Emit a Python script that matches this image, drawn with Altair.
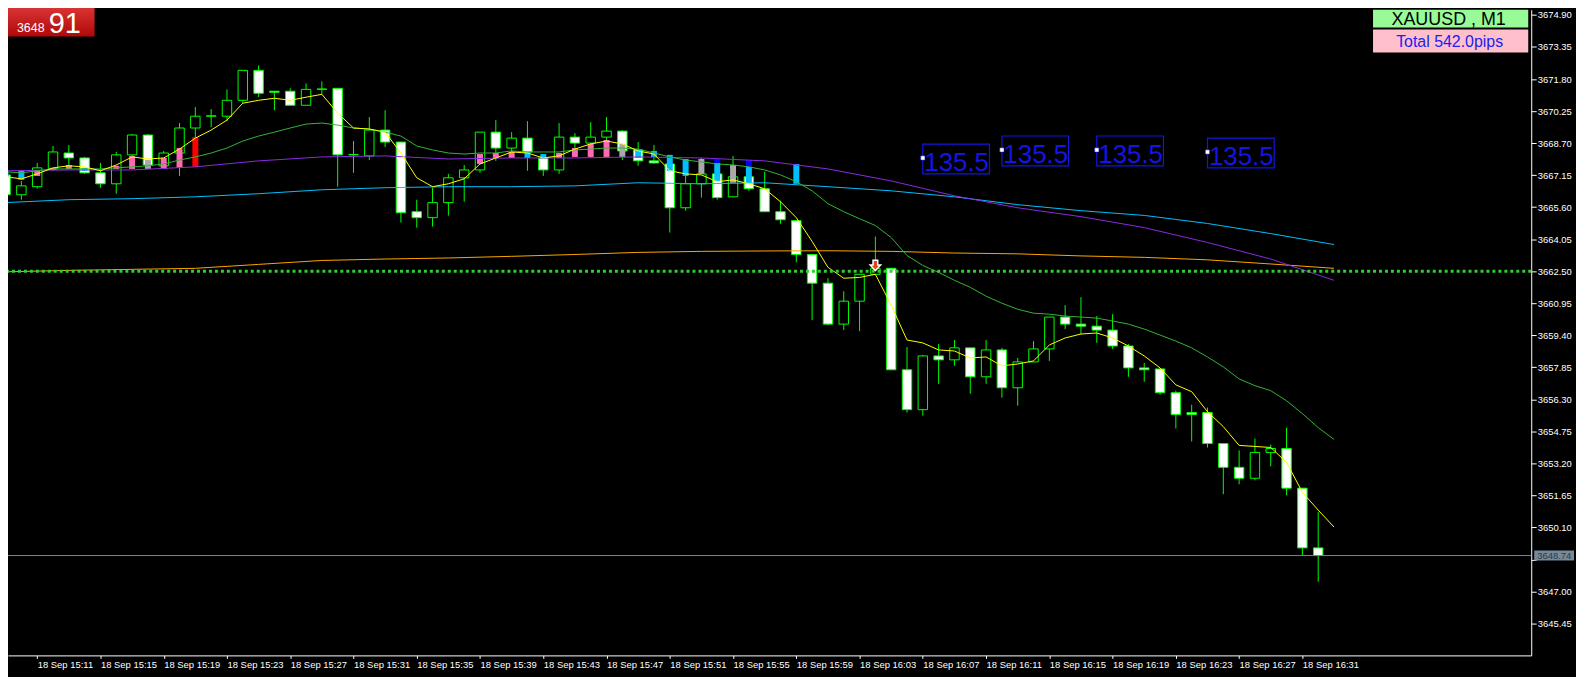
import altair as alt
import pandas as pd

# ------------------------------------------------------------------ data
DAY = "2025-09-18"
FIRST_BAR = "15:09"          # first (left-most) one-minute bar

opens = [3667.16, 3666.20, 3666.59, 3667.45, 3668.22, 3667.98, 3667.26, 3666.73, 3668.13, 3669.09,
         3667.60, 3668.22, 3669.43, 3670.00, 3670.00, 3670.77, 3672.22, 3671.21, 3671.21, 3670.53,
         3671.30, 3671.35, 3668.13, 3668.08, 3669.33, 3668.75, 3665.38, 3665.09, 3665.82, 3667.02,
         3667.40, 3669.23, 3668.46, 3668.94, 3667.98, 3667.40, 3668.99, 3668.70, 3668.99, 3669.28,
         3668.37, 3667.84, 3667.69, 3665.57, 3666.73, 3667.21, 3666.10, 3667.07, 3666.49, 3665.38,
         3664.95, 3663.31, 3661.92, 3659.94, 3661.05, 3662.35, 3662.64, 3657.73, 3655.80, 3658.40,
         3658.21, 3658.79, 3657.39, 3658.69, 3656.86, 3658.11, 3658.74, 3660.28, 3659.94, 3659.84,
         3659.65, 3658.88, 3657.82, 3657.77, 3656.62, 3655.66, 3655.66, 3654.16, 3653.01, 3652.48,
         3653.73, 3653.92, 3652.00, 3649.11]
highs = [3667.60, 3666.87, 3667.74, 3668.56, 3668.61, 3668.03, 3667.74, 3668.27, 3669.14, 3669.14,
         3668.32, 3669.67, 3670.44, 3670.34, 3671.30, 3672.22, 3672.46, 3671.21, 3671.35, 3671.59,
         3671.69, 3671.35, 3668.80, 3669.96, 3670.29, 3668.75, 3665.96, 3666.54, 3667.21, 3667.64,
         3669.23, 3669.81, 3669.23, 3669.76, 3668.17, 3669.67, 3669.18, 3669.71, 3669.96, 3669.33,
         3668.75, 3668.61, 3668.13, 3667.11, 3667.98, 3667.93, 3668.08, 3667.84, 3667.31, 3665.91,
         3664.95, 3663.31, 3662.16, 3661.53, 3662.35, 3664.18, 3662.64, 3658.83, 3658.45, 3658.98,
         3659.17, 3658.79, 3659.17, 3658.79, 3658.30, 3659.12, 3660.28, 3660.86, 3661.24, 3660.33,
         3660.42, 3658.98, 3658.06, 3657.77, 3656.72, 3656.04, 3655.90, 3654.16, 3653.83, 3654.40,
         3654.11, 3654.93, 3652.00, 3650.84]
lows = [3666.06, 3665.96, 3666.49, 3667.36, 3667.50, 3667.21, 3666.54, 3666.25, 3668.08, 3667.50,
        3667.55, 3667.11, 3668.94, 3669.47, 3669.76, 3670.63, 3670.92, 3670.29, 3670.53, 3670.53,
        3671.06, 3666.59, 3667.26, 3667.88, 3668.51, 3664.85, 3664.61, 3664.66, 3665.19, 3665.86,
        3667.26, 3667.84, 3667.98, 3667.36, 3667.11, 3667.21, 3668.46, 3667.98, 3668.70, 3667.88,
        3667.60, 3667.69, 3664.37, 3665.43, 3666.06, 3665.96, 3666.10, 3666.39, 3665.38, 3664.80,
        3662.93, 3660.13, 3659.89, 3659.65, 3659.60, 3662.35, 3657.73, 3655.66, 3655.51, 3657.05,
        3657.92, 3656.57, 3657.05, 3656.38, 3655.99, 3658.11, 3658.16, 3659.70, 3659.46, 3659.03,
        3658.74, 3657.39, 3657.15, 3656.52, 3654.89, 3654.26, 3653.97, 3651.71, 3652.19, 3652.38,
        3653.06, 3651.66, 3648.72, 3647.47]
closes = [3666.20, 3666.63, 3667.50, 3668.27, 3667.98, 3667.26, 3666.73, 3668.13, 3669.09, 3667.64,
          3668.22, 3669.43, 3670.00, 3670.02, 3670.77, 3672.22, 3671.11, 3671.16, 3670.53, 3671.30,
          3671.32, 3668.13, 3668.15, 3669.33, 3668.75, 3665.33, 3665.09, 3665.82, 3667.02, 3667.40,
          3669.23, 3668.46, 3668.94, 3668.27, 3667.40, 3668.99, 3668.70, 3668.99, 3669.28, 3668.32,
          3667.84, 3667.74, 3665.57, 3666.73, 3667.21, 3666.06, 3667.07, 3666.49, 3665.38, 3664.99,
          3663.31, 3661.92, 3659.94, 3661.05, 3662.35, 3662.64, 3657.73, 3655.80, 3658.40, 3658.21,
          3658.79, 3657.39, 3658.69, 3656.86, 3658.11, 3658.74, 3660.28, 3659.94, 3659.84, 3659.65,
          3658.88, 3657.82, 3657.73, 3656.62, 3655.56, 3655.56, 3654.16, 3653.01, 3652.48, 3653.73,
          3653.92, 3652.00, 3649.11, 3648.74]

# moving averages, one value per bar (drawn one bar shifted, so 85 values)
ma_fast = [3667.07, 3666.97, 3667.21, 3667.50, 3667.60, 3667.55, 3667.36, 3667.64, 3668.03, 3667.93,
           3667.98, 3668.41, 3668.94, 3669.33, 3669.81, 3670.63, 3670.77, 3670.87, 3670.77, 3670.92,
           3671.06, 3670.15, 3669.43, 3669.38, 3669.23, 3668.22, 3667.02, 3666.59, 3666.73, 3666.97,
           3667.69, 3667.98, 3668.27, 3668.22, 3667.98, 3668.08, 3668.41, 3668.66, 3668.80, 3668.66,
           3668.32, 3668.17, 3667.36, 3667.21, 3667.16, 3666.83, 3666.92, 3666.73, 3666.49, 3665.86,
           3665.09, 3663.94, 3662.69, 3662.16, 3662.20, 3662.35, 3660.86, 3659.17, 3659.03, 3658.69,
           3658.64, 3658.30, 3658.35, 3657.92, 3658.01, 3658.16, 3658.93, 3659.27, 3659.46, 3659.51,
           3659.27, 3658.88, 3658.40, 3657.82, 3657.00, 3656.67, 3655.70, 3654.98, 3654.07, 3654.02,
           3653.97, 3653.25, 3651.80, 3650.94, 3650.12]
ma_mid = [3667.31, 3667.26, 3667.36, 3667.45, 3667.45, 3667.45, 3667.45, 3667.50, 3667.55, 3667.60,
          3667.69, 3667.88, 3668.03, 3668.22, 3668.46, 3668.80, 3669.04, 3669.23, 3669.43, 3669.62,
          3669.67, 3669.57, 3669.43, 3669.38, 3669.23, 3669.04, 3668.56, 3668.37, 3668.22, 3668.17,
          3668.22, 3668.22, 3668.32, 3668.27, 3668.27, 3668.27, 3668.37, 3668.41, 3668.46, 3668.46,
          3668.41, 3668.22, 3668.03, 3667.88, 3667.79, 3667.69, 3667.64, 3667.55, 3667.40, 3667.16,
          3666.83, 3666.39, 3665.77, 3665.38, 3665.04, 3664.71, 3664.13, 3663.26, 3662.78, 3662.44,
          3662.06, 3661.72, 3661.29, 3660.95, 3660.66, 3660.47, 3660.42, 3660.33, 3660.28, 3660.23,
          3660.09, 3659.94, 3659.70, 3659.41, 3659.12, 3658.79, 3658.35, 3657.87, 3657.29, 3656.96,
          3656.72, 3656.23, 3655.61, 3654.93, 3654.36]
# slow averages, read every 4th bar
slow_bars = list(range(0, 85, 4))
ma_purple = [3667.36, 3667.40, 3667.40, 3667.55, 3667.84, 3668.03, 3668.08, 3667.93, 3667.98, 3667.98, 3668.03,
             3667.98, 3667.84, 3667.45, 3666.87, 3666.15, 3665.57, 3665.14, 3664.61, 3663.89, 3663.09, 3662.06]
ma_blue = [3665.82, 3665.96, 3666.01, 3666.10, 3666.25, 3666.44, 3666.54, 3666.59, 3666.59, 3666.63, 3666.78,
           3666.73, 3666.78, 3666.59, 3666.39, 3666.10, 3665.72, 3665.43, 3665.20, 3664.81, 3664.32, 3663.79]
ma_orange = [3662.47, 3662.54, 3662.59, 3662.64, 3662.83, 3663.02, 3663.09, 3663.14, 3663.22, 3663.31, 3663.41,
             3663.46, 3663.48, 3663.49, 3663.46, 3663.38, 3663.34, 3663.24, 3663.17, 3663.05, 3662.85, 3662.64]

# indicator histogram blocks
hist_bar = [0, 1, 2, 3, 4, 5, 7, 8, 9, 10, 11, 12,
            30, 31, 32, 33, 34, 35, 36, 37, 38, 39, 40, 41, 42, 43, 44, 45, 45, 46, 47, 47, 50]
hist_top = [3667.36, 3667.36, 3667.40, 3667.50, 3667.64, 3667.50, 3667.60, 3668.08, 3667.88, 3667.98, 3668.46, 3668.99,
            3668.17, 3668.22, 3668.27, 3668.27, 3668.17, 3668.22, 3668.46, 3668.66, 3668.85, 3668.66, 3668.37, 3668.32,
            3668.13, 3667.93, 3667.93, 3667.74, 3667.93, 3667.64, 3667.55, 3667.88, 3667.69]
hist_bottom = [3667.07, 3666.92, 3667.11, 3667.40, 3667.45, 3667.36, 3667.45, 3667.45, 3667.45, 3667.45, 3667.50, 3667.55,
               3667.69, 3667.98, 3667.98, 3667.98, 3667.98, 3667.98, 3668.03, 3668.03, 3668.03, 3668.03, 3667.98, 3668.03,
               3667.36, 3667.11, 3667.21, 3666.87, 3667.74, 3666.78, 3666.78, 3667.55, 3666.73]
hist_kind = ["B", "B", "P", "P", "P", "B", "P", "P", "G", "P", "P", "R",
             "P", "P", "P", "B", "B", "P", "P", "P", "P", "G", "B", "B",
             "B", "B", "G", "B", "D", "G", "B", "D", "B"]

# annotations
level_line = 3662.50
current_price = 3648.74
price_label = "3648.74"
box_bars = [58, 63, 69, 76]
box_prices = [3667.98, 3668.37, 3668.37, 3668.27]
box_texts = ["135.5", "135.5", "135.5", "135.5"]
arrow_bar = 55
arrow_price = 3662.78
y_ticks = [3674.90, 3673.35, 3671.80, 3670.25, 3668.70, 3667.15, 3665.60, 3664.05, 3662.50, 3660.95,
           3659.40, 3657.85, 3656.30, 3654.75, 3653.20, 3651.65, 3650.10, 3648.55, 3647.00, 3645.45]
x_tick_times = ["15:11", "15:15", "15:19", "15:23", "15:27", "15:31", "15:35", "15:39", "15:43", "15:47",
                "15:51", "15:55", "15:59", "16:03", "16:07", "16:11", "16:15", "16:19", "16:23", "16:27", "16:31"]
badge_small = "3648"
badge_big = "91"
symbol_label = "XAUUSD , M1"
total_label = "Total 542.0pips"

# ------------------------------------------------------------------ helpers
GREEN = "#00FF00"
FONT = "Liberation Sans, Arial, sans-serif"

bar_times = pd.date_range(f"{DAY} {FIRST_BAR}", periods=len(opens) + 1, freq="min")


def ts(k):
    return bar_times[k].strftime("%Y-%m-%dT%H:%M:%S")


def dt(h, m, s=0, ms=0):
    return alt.DateTime(year=2025, month=9, date=18, hours=h, minutes=m, seconds=s, milliseconds=ms)


x_scale = alt.Scale(domain=[dt(15, 9, 28, 125), dt(16, 45, 9, 375)], nice=False)
y_scale = alt.Scale(domain=[3643.908, 3675.155], nice=False, zero=False)

x_axis = alt.Axis(values=[dt(int(s[:2]), int(s[3:])) for s in x_tick_times], format="%d %b %H:%M",
                  labelAlign="left", labelBaseline="top", labelPadding=1, labelColor="white",
                  labelFont=FONT, labelFontSize=9.5, tickColor="white", tickSize=3,
                  domainColor="white", grid=False, labelFlush=False, labelOverlap=False,
                  labelBound=False, title=None)
y_axis = alt.Axis(orient="right", values=y_ticks, labelColor="white", labelFont=FONT,
                  labelExpr="abs(datum.value - 3648.55) < 0.01 ? '' : format(datum.value, '.2f')",
                  labelFontSize=9.5, labelPadding=1, tickSize=5, tickColor="white", domainColor="white",
                  grid=False, labelOverlap=False, labelFlush=False, labelBaseline="middle", title=None)


def X(f="t"):
    return alt.X(f"{f}:T", scale=x_scale, axis=x_axis, title=None)


def Y(f):
    return alt.Y(f"{f}:Q", scale=y_scale, axis=y_axis, title=None)


# ------------------------------------------------------------------ frames
n = len(opens)
candles = pd.DataFrame({"t": [ts(i) for i in range(n)], "open": opens, "high": highs,
                        "low": lows, "close": closes})
candles["fill"] = ["#FFFFFF" if c < o else "#000000" for o, c in zip(opens, closes)]

kind_color = {"B": "#00BFFF", "P": "#FF69B4", "G": "#A9A9A9", "R": "#FF0000", "D": "#0000FF"}
hist = pd.DataFrame({"t": [ts(i) for i in hist_bar], "top": hist_top, "bottom": hist_bottom,
                     "col": [kind_color[k] for k in hist_kind]})

fast = pd.DataFrame({"t": [ts(i) for i in range(len(ma_fast))], "p": ma_fast})
mid = pd.DataFrame({"t": [ts(i) for i in range(len(ma_mid))], "p": ma_mid})
purple = pd.DataFrame({"t": [ts(i) for i in slow_bars], "p": ma_purple})
blue = pd.DataFrame({"t": [ts(i) for i in slow_bars], "p": ma_blue})
orange = pd.DataFrame({"t": [ts(i) for i in slow_bars], "p": ma_orange})

boxes = pd.DataFrame({"t": [ts(i) for i in box_bars], "p": box_prices, "txt": box_texts})
arrow = pd.DataFrame({"t": [ts(arrow_bar)], "p": [arrow_price]})
level = pd.DataFrame({"p": [level_line]})
price = pd.DataFrame({"p": [current_price], "txt": [price_label]})
one = pd.DataFrame({"a": [0]})

# ------------------------------------------------------------------ layers
wicks = alt.Chart(candles).mark_rule(color=GREEN, strokeWidth=1).encode(
    x=X(), y=Y("low"), y2="high")
bodies = alt.Chart(candles).mark_bar(size=9.5, stroke=GREEN, strokeWidth=1).encode(
    x=X(), y=Y("open"), y2="close", fill=alt.Fill("fill:N", scale=None))
histo = alt.Chart(hist).mark_bar(size=6).encode(
    x=X(), y=Y("top"), y2="bottom", color=alt.Color("col:N", scale=None))


def ma_layer(df, color):
    return alt.Chart(df).mark_line(color=color, strokeWidth=1).encode(x=X(), y=Y("p"))


lines = [ma_layer(orange, "#FFA500"), ma_layer(blue, "#00BFFF"), ma_layer(purple, "#8A2BE2"),
         ma_layer(mid, "#32B432"), ma_layer(fast, "#FFFF00")]

level_rule = alt.Chart(level).mark_rule(color="#32CD32", strokeWidth=3, strokeDash=[3, 3]).encode(y=Y("p"))
price_rule = alt.Chart(price).mark_rule(color="#778899", strokeWidth=1).encode(y=Y("p"))

arrow_shape = "M-0.45,-1 L0.45,-1 L0.45,-0.1 L1,-0.1 L0,1 L-1,-0.1 L-0.45,-0.1 Z"
arrow_pt = alt.Chart(arrow).mark_point(shape=arrow_shape, size=110, filled=True, fill="#E8401C",
                                       stroke="white", strokeWidth=1.5, opacity=1).encode(x=X(), y=Y("p"))

box_rect = alt.Chart(boxes).mark_rect(fill="#000000", stroke="#1414E6", strokeWidth=1.2,
                                      x2Offset=67, yOffset=-14, y2Offset=16).encode(
    x=X(), x2="t", y=Y("p"), y2="p")
box_text = alt.Chart(boxes).mark_text(align="center", baseline="alphabetic", dx=34, dy=13,
                                      font=FONT, fontSize=26, color="#1414E6").encode(
    x=X(), y=Y("p"), text="txt:N")
box_dot = alt.Chart(boxes).mark_square(size=18, color="white", stroke="#1414E6", strokeWidth=0.5,
                                       opacity=1).encode(x=X(), y=Y("p"))

price_box = alt.Chart(price).mark_rect(color="#778899", yOffset=-5, y2Offset=5, clip=False).encode(
    x=alt.value(1534), x2=alt.value(1574), y=Y("p"), y2="p")
price_txt = alt.Chart(price).mark_text(align="left", baseline="middle", font=FONT, fontSize=9.5,
                                       color="#2B3846", clip=False).encode(
    x=alt.value(1537), y=Y("p"), text="txt:N")

grad = alt.Gradient(gradient="linear", x1=0, x2=0, y1=0, y2=1,
                    stops=[alt.GradientStop(color="#E23C3C", offset=0),
                           alt.GradientStop(color="#B00808", offset=1)])
badge = alt.Chart(one).mark_rect(color=grad).encode(
    x=alt.value(-5), x2=alt.value(87), y=alt.value(-8), y2=alt.value(27))
badge_t1 = alt.Chart(one).mark_text(align="left", baseline="alphabetic", font=FONT, fontSize=12.5,
                                    color="white", text=badge_small).encode(x=alt.value(9), y=alt.value(22))
badge_t2 = alt.Chart(one).mark_text(align="left", baseline="alphabetic", font=FONT, fontSize=29,
                                    color="white", text=badge_big).encode(x=alt.value(41), y=alt.value(23))

sym_box = alt.Chart(one).mark_rect(color="#98FB98").encode(
    x=alt.value(1372), x2=alt.value(1528), y=alt.value(0), y2=alt.value(18))
sym_txt = alt.Chart(one).mark_text(align="center", baseline="alphabetic", font=FONT, fontSize=18,
                                   color="black", text=symbol_label).encode(x=alt.value(1448), y=alt.value(15))
tot_box = alt.Chart(one).mark_rect(color="#FFC0CB").encode(
    x=alt.value(1372), x2=alt.value(1528), y=alt.value(20), y2=alt.value(43))
tot_txt = alt.Chart(one).mark_text(align="center", baseline="alphabetic", font=FONT, fontSize=16,
                                   color="#2020F0", text=total_label).encode(x=alt.value(1449), y=alt.value(37))

chart = alt.layer(
    wicks, bodies, histo, *lines, level_rule, price_rule, arrow_pt,
    box_rect, box_text, box_dot, price_box, price_txt,
    badge, badge_t1, badge_t2, sym_box, sym_txt, tot_box, tot_txt,
).properties(
    width=1531, height=649, background="#000000",
    padding={"left": 0, "top": 0, "right": 45, "bottom": 20},
    autosize=alt.AutoSizeParams(type="none"),
).configure_view(strokeWidth=0)

chart.save("out.html", embed_options={"renderer": "svg", "actions": False})
